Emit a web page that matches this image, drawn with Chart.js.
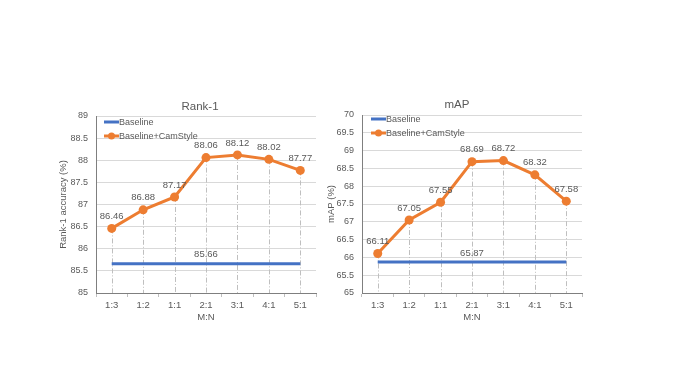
<!DOCTYPE html>
<html>
<head>
<meta charset="utf-8">
<script src="https://cdn.jsdelivr.net/npm/chart.js@4"></script>
<style>
  body { margin: 0; background: #fff; }
  .wrap { position: relative; width: 677px; height: 379px; overflow: hidden; }
  .box { position: absolute; top: 0; height: 379px; }
  #rankBox { left: 0; width: 338px; }
  #mapBox { left: 300px; width: 377px; }
</style>
</head>
<body>
<div class="wrap">
  <div class="box" id="rankBox"><canvas id="rankChart"></canvas></div>
  <div class="box" id="mapBox"><canvas id="mapChart"></canvas></div>
</div>
<script>
// M:N ratios
var ratios = ['1:3', '1:2', '1:1', '2:1', '3:1', '4:1', '5:1'];

// Rank-1 accuracy (%)
var rankCamStyle = [86.46, 86.88, 87.17, 88.06, 88.12, 88.02, 87.77];
var rankBaseline = [85.66, 85.66, 85.66, 85.66, 85.66, 85.66, 85.66];

// mAP (%)
var mapCamStyle = [66.11, 67.05, 67.55, 68.69, 68.72, 68.32, 67.58];
var mapBaseline = [65.87, 65.87, 65.87, 65.87, 65.87, 65.87, 65.87];

var seriesNames = ['Baseline', 'Baseline+CamStyle'];
var BLUE = '#4472C4';
var ORANGE = '#ED7D31';
var TEXT = '#595959';
var FONT = "'Liberation Sans', Arial, sans-serif";

// drop lines, value labels, legend and title
var extras = {
    id: 'extras',
    beforeDatasetsDraw: function(chart) {
        var ctx = chart.ctx;
        var meta = chart.getDatasetMeta(1);
        var bottom = chart.chartArea.bottom;
        ctx.save();
        ctx.strokeStyle = '#bfbfbf';
        ctx.lineWidth = 1;
        ctx.setLineDash([5, 2, 1, 2]);
        meta.data.forEach(function(pt) {
            ctx.beginPath();
            ctx.moveTo(Math.round(pt.x) + 0.5, pt.y);
            ctx.lineTo(Math.round(pt.x) + 0.5, bottom);
            ctx.stroke();
        });
        ctx.restore();
    },
    afterDatasetsDraw: function(chart, args, opts) {
        var ctx = chart.ctx;
        ctx.save();
        ctx.fillStyle = TEXT;
        ctx.font = '9.5px ' + FONT;
        ctx.textAlign = 'center';
        ctx.textBaseline = 'middle';

        // value labels of CamStyle series
        var meta = chart.getDatasetMeta(1);
        meta.data.forEach(function(pt, i) {
            ctx.fillText(chart.data.datasets[1].data[i].toFixed(2), pt.x, pt.y - 12);
        });
        // single label on baseline
        var base = chart.getDatasetMeta(0).data[3];
        ctx.fillText(chart.data.datasets[0].data[3].toFixed(2), base.x, base.y - 9);

        // title
        ctx.font = '11.5px ' + FONT;
        ctx.fillText(opts.title, opts.titleX, opts.titleY);

        // legend
        var lx = chart.chartArea.left + opts.legendDX;
        var ly = chart.chartArea.top + opts.legendDY;
        var colors = [BLUE, ORANGE];
        ctx.font = '9px ' + FONT;
        ctx.textAlign = 'left';
        for (var i = 0; i < 2; i++) {
            var y = ly + i * 14;
            ctx.strokeStyle = colors[i];
            ctx.lineWidth = 3;
            ctx.beginPath();
            ctx.moveTo(lx, y);
            ctx.lineTo(lx + 15, y);
            ctx.stroke();
            if (i === 1) {
                ctx.fillStyle = colors[i];
                ctx.beginPath();
                ctx.arc(lx + 7.5, y, 3.5, 0, Math.PI * 2);
                ctx.fill();
            }
            ctx.fillStyle = TEXT;
            ctx.fillText(seriesNames[i], lx + 15, y + 0.5);
        }
        ctx.restore();
    }
};

function makeChart(id, baseData, camData, cfg) {
    var ctx = document.getElementById(id).getContext('2d');
    return new Chart(ctx, {
        type: 'line',
        data: {
            labels: ratios,
            datasets: [{
                label: seriesNames[0],
                data: baseData,
                borderColor: BLUE,
                backgroundColor: BLUE,
                borderWidth: 3,
                pointRadius: 0,
                tension: 0
            }, {
                label: seriesNames[1],
                data: camData,
                borderColor: ORANGE,
                backgroundColor: ORANGE,
                borderWidth: 3,
                pointRadius: 4.5,
                pointBorderWidth: 0,
                tension: 0
            }]
        },
        options: {
            responsive: true,
            maintainAspectRatio: false,
            animation: false,
            layout: {
                padding: cfg.padding
            },
            plugins: {
                legend: { display: false },
                tooltip: { enabled: false },
                extras: cfg.extras
            },
            scales: {
                x: {
                    offset: true,
                    grid: {
                        offset: true,
                        drawOnChartArea: false,
                        drawTicks: true,
                        tickLength: 4,
                        color: '#bfbfbf'
                    },
                    border: { color: '#7f7f7f', width: 1 },
                    ticks: {
                        color: TEXT,
                        padding: 3,
                        font: { family: FONT, size: 9.5 }
                    },
                    title: {
                        display: true,
                        text: 'M:N',
                        color: TEXT,
                        font: { family: FONT, size: 9.5 },
                        padding: { top: 2, bottom: 3 }
                    },
                    afterFit: function(scale) { scale.height = 33; }
                },
                y: {
                    min: cfg.min,
                    max: cfg.max,
                    grid: {
                        color: '#d9d9d9',
                        drawTicks: false
                    },
                    border: { color: '#7f7f7f', width: 1 },
                    ticks: {
                        stepSize: 0.5,
                        color: TEXT,
                        padding: 8,
                        font: { family: FONT, size: 9 },
                        callback: function(v) { return String(Math.round(v * 10) / 10); }
                    },
                    title: {
                        display: true,
                        text: cfg.yTitle,
                        color: TEXT,
                        font: { family: FONT, size: 9.5 },
                        padding: { top: 4, bottom: 4 }
                    },
                    afterFit: function(scale) { scale.width = cfg.yWidth; }
                }
            }
        },
        plugins: [extras]
    });
}

makeChart('rankChart', rankBaseline, rankCamStyle, {
    min: 85, max: 89,
    yTitle: 'Rank-1 accuracy (%)',
    yWidth: 42,
    padding: { left: 54, right: 22, top: 116, bottom: 53 },
    extras: { title: 'Rank-1', titleX: 200, titleY: 107, legendDX: 8, legendDY: 6 }
});

makeChart('mapChart', mapBaseline, mapCamStyle, {
    min: 65, max: 70,
    yTitle: 'mAP (%)',
    yWidth: 40,
    padding: { left: 22, right: 95, top: 115, bottom: 53 },
    extras: { title: 'mAP', titleX: 157, titleY: 105, legendDX: 9, legendDY: 4 }
});
</script>
</body>
</html>
